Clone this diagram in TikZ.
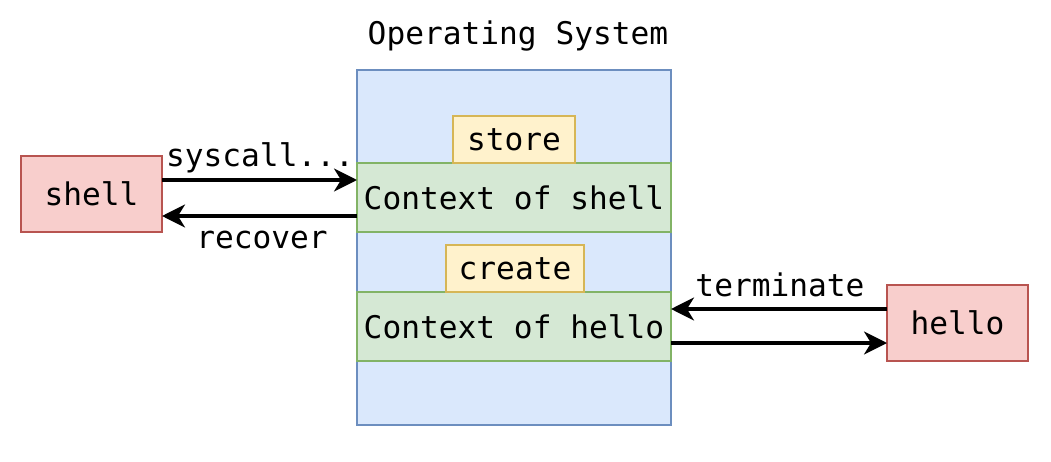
\documentclass[tikz,border=0pt]{standalone}
\usepackage{fontspec}
\setmainfont{DejaVu Sans Mono}
\usetikzlibrary{arrows.meta}
\definecolor{osfill}{HTML}{DAE8FC}
\definecolor{osdraw}{HTML}{6C8EBF}
\definecolor{gfill}{HTML}{D5E8D4}
\definecolor{gdraw}{HTML}{82B366}
\definecolor{yfill}{HTML}{FFF2CC}
\definecolor{ydraw}{HTML}{D6B656}
\definecolor{rfill}{HTML}{F8CECC}
\definecolor{rdraw}{HTML}{B85450}
\begin{document}
\begin{tikzpicture}[x=1pt,y=-1pt,
  every node/.style={font=\fontsize{31.2}{36}\selectfont, inner sep=0pt, outer sep=0pt},
  box/.style={draw, line width=2.6pt, anchor=north west},
  osbox/.style={box, fill=osfill, draw=osdraw},
  ctxbox/.style={box, fill=gfill, draw=gdraw},
  tagbox/.style={box, fill=yfill, draw=ydraw},
  procbox/.style={box, fill=rfill, draw=rdraw},
  arr/.style={line width=3.2pt, -{Stealth[length=23pt,width=23pt,inset=7pt]}},
  lbl/.style={anchor=center}
]
\useasboundingbox (0,0) rectangle (1051,462);
\node[osbox, minimum width=314pt, minimum height=355pt] (os) at (357,70) {};
\node[lbl] (ostitle) at (518,36) {Operating System};
\node[ctxbox, minimum width=314pt, minimum height=69pt] (ctxs) at (357,163) {Context of shell};
\node[tagbox, minimum width=122pt, minimum height=47pt] (store) at (453,116) {store};
\node[ctxbox, minimum width=314pt, minimum height=69pt] (ctxh) at (357,292) {Context of hello};
\node[tagbox, minimum width=138pt, minimum height=47pt] (create) at (446,245) {create};
\node[procbox, minimum width=141pt, minimum height=76pt] (shell) at (21,156) {shell};
\node[procbox, minimum width=141pt, minimum height=76pt] (hello) at (887,285) {hello};
\draw[arr] (shell.east |- 0,180) -- (ctxs.west |- 0,180);
\draw[arr] (ctxs.west |- 0,216) -- (shell.east |- 0,216);
\draw[arr] (hello.west |- 0,309) -- (ctxh.east |- 0,309);
\draw[arr] (ctxh.east |- 0,343) -- (hello.west |- 0,343);
\node[lbl] (lsys) at (260,158) {syscall...};
\node[lbl] (lrec) at (262,240) {recover};
\node[lbl] (lterm) at (780,285) {terminate};
\end{tikzpicture}
\end{document}
